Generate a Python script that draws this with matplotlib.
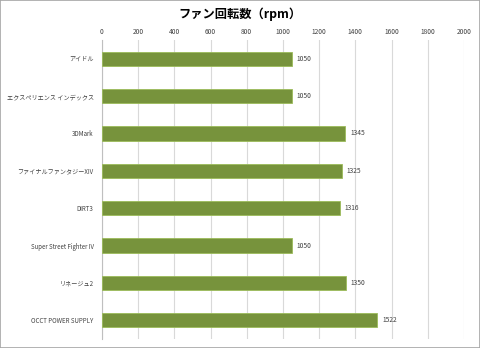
import matplotlib
matplotlib.use("Agg")
import matplotlib.pyplot as plt
from matplotlib.patches import Rectangle

plt.rcParams['font.family'] = ['Noto Sans CJK JP', 'DejaVu Sans']

categories = ["アイドル", "エクスペリエンス インデックス", "3DMark", "ファイナルファンタジーXIV",
              "DIRT3", "Super Street Fighter IV", "リネージュ2", "OCCT POWER SUPPLY"]
values = [1050, 1050, 1345, 1325, 1316, 1050, 1350, 1522]
xticks = [0, 200, 400, 600, 800, 1000, 1200, 1400, 1600, 1800, 2000]

fig = plt.figure(figsize=(4.8, 3.48), dpi=100)
fig.patches.append(Rectangle((0, 0), 1, 1, transform=fig.transFigure, fill=False,
                             edgecolor='#a6a6a6', linewidth=1.2))
ax = fig.add_axes([102/480, 1 - 339/348, (464-102)/480, (339-40)/348])

pos = list(range(len(categories)))
ax.barh(pos, values, height=0.38, color='#77933C', edgecolor='#9BBB59', linewidth=0.6, zorder=3)
for p, v in zip(pos, values):
    ax.text(v + 25, p, str(v), va='center', ha='left', fontsize=4.8, color='#404040')

ax.set_ylim(len(categories) - 0.5, -0.5)
ax.set_xlim(0, 2000)
ax.set_yticks(pos)
ax.set_yticklabels(categories, color='#404040')
for lab in ax.get_yticklabels():
    t = lab.get_text()
    if t.isascii():
        lab.set_fontsize(4.4)
    else:
        lab.set_fontsize(4.4)
ax.set_xticks(xticks)
ax.set_xticklabels([str(t) for t in xticks], fontsize=4.8, color='#404040')
ax.xaxis.tick_top()
ax.tick_params(axis='x', length=0, pad=3)
ax.tick_params(axis='y', length=0, pad=6)
ax.grid(axis='x', color='#d9d9d9', linewidth=0.8, zorder=0)
for s in ['top', 'right', 'bottom']:
    ax.spines[s].set_visible(False)
ax.spines['left'].set_color('#bfbfbf')
ax.spines['left'].set_linewidth(0.8)

fig.text(0.5, 1 - 14/348, "ファン回転数（rpm）", ha='center', va='center', fontsize=8.8, fontweight='bold', color='#000000')

fig.savefig("out.png", dpi=100)
